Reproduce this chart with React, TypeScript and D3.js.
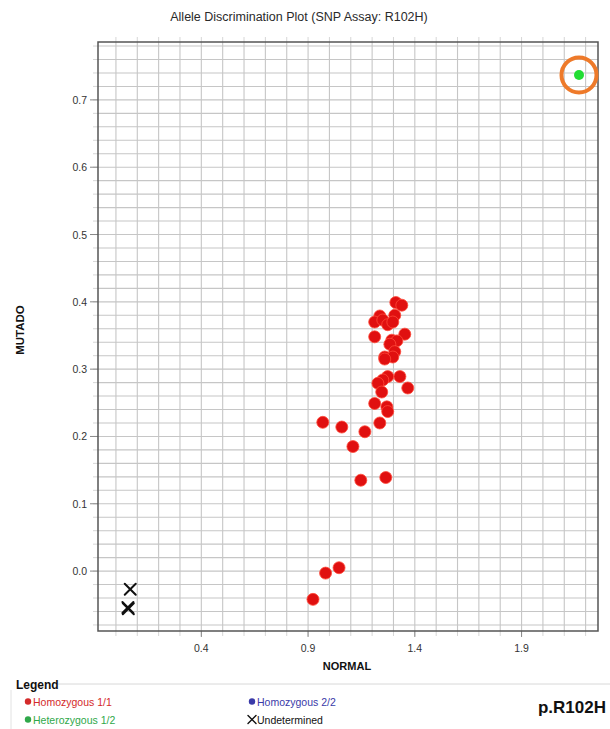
import React from "react";
import * as d3 from "d3";

// Allele discrimination data: NORMAL allele signal (x) vs MUTADO allele signal (y)
const homozygous11: [number, number][] = [
  [1.311, 0.399], [1.339, 0.395], [1.236, 0.379], [1.306, 0.38],
  [1.212, 0.37], [1.25, 0.373], [1.273, 0.366], [1.297, 0.37],
  [1.212, 0.348], [1.353, 0.352], [1.292, 0.343], [1.316, 0.342],
  [1.283, 0.337], [1.306, 0.326], [1.259, 0.318], [1.297, 0.318],
  [1.259, 0.315], [1.273, 0.289], [1.25, 0.284], [1.227, 0.279],
  [1.33, 0.289], [1.245, 0.266], [1.367, 0.272], [1.212, 0.249],
  [1.269, 0.244], [1.273, 0.237], [1.236, 0.22], [0.969, 0.221],
  [1.058, 0.214], [1.166, 0.207], [1.11, 0.185], [1.147, 0.135],
  [1.264, 0.139], [0.982, -0.003], [1.045, 0.005], [0.923, -0.042],
];
const heterozygous12: [number, number][] = [[2.169, 0.737]];
const undetermined: [number, number][] = [
  [0.067, -0.027], [0.056, -0.054], [0.058, -0.056],
];

const xTickValues = [0.4, 0.9, 1.4, 1.9];
const yTickValues = [0.0, 0.1, 0.2, 0.3, 0.4, 0.5, 0.6, 0.7];
const xGridValues = d3.range(0, 22.5).map((i) => i / 10);
const yGridValues = d3.range(-4, 40).map((i) => i / 50);

const title = "Allele Discrimination Plot (SNP Assay: R102H)";
const legendItems = [
  { label: "Homozygous 1/1", color: "#d42a2a", mark: "dot", col: 0, row: 0 },
  { label: "Heterozygous 1/2", color: "#2fa84a", mark: "dot", col: 0, row: 1 },
  { label: "Homozygous 2/2", color: "#3a3aa8", mark: "dot", col: 1, row: 0 },
  { label: "Undetermined", color: "#111", mark: "x", col: 1, row: 1 },
];

const FONT = "'Liberation Sans', Arial, sans-serif";

export default function App() {
  const width = 610;
  const height = 729;
  const left = 98, right = 598, top = 42, bottom = 631;

  const x = d3.scaleLinear().domain([-0.084, 2.258]).range([left, right]);
  const y = d3.scaleLinear().domain([-0.089, 0.786]).range([bottom, top]);

  const xMark = (cx: number, cy: number, r: number, sw: number, key: string, color = "#111") => (
    <g key={key} stroke={color} strokeWidth={sw} strokeLinecap="round">
      <line x1={cx - r} y1={cy - r} x2={cx + r} y2={cy + r} />
      <line x1={cx - r} y1={cy + r} x2={cx + r} y2={cy - r} />
    </g>
  );

  return (
    <svg
      width={width}
      height={height}
      style={{ position: "absolute", left: 0, top: 0, background: "#fff" }}
      fontFamily={FONT}
    >
      <rect x={0} y={0} width={width} height={height} fill="#fff" />
      <text x={299} y={21} textAnchor="middle" fontSize={12.5} fill="#2a2a2a">
        {title}
      </text>

      {/* grid */}
      <g stroke="#c6c6c6" strokeWidth={1.1}>
        {xGridValues.map((v) => (
          <line key={"gx" + v} x1={x(v)} x2={x(v)} y1={top} y2={bottom} />
        ))}
        {yGridValues.map((v) => (
          <line key={"gy" + v} x1={left} x2={right} y1={y(v)} y2={y(v)} />
        ))}
      </g>

      {/* faint outer ticks */}
      <g stroke="#d6d6d6" strokeWidth={1}>
        {xGridValues.map((v) => (
          <line key={"tb" + v} x1={x(v)} x2={x(v)} y1={bottom} y2={bottom + 5} />
        ))}
        {xGridValues.map((v) => (
          <line key={"tt" + v} x1={x(v)} x2={x(v)} y1={top - 5} y2={top} />
        ))}
        {yGridValues.map((v) => (
          <line key={"tl" + v} x1={left - 5} x2={left} y1={y(v)} y2={y(v)} />
        ))}
      </g>
      <g stroke="#888" strokeWidth={1}>
        {yTickValues.map((v) => (
          <line key={"my" + v} x1={left - 8} x2={left} y1={y(v)} y2={y(v)} />
        ))}
        {xTickValues.map((v) => (
          <line key={"mx" + v} x1={x(v)} x2={x(v)} y1={bottom} y2={bottom + 6} />
        ))}
      </g>

      {/* frame */}
      <rect x={left} y={top} width={right - left} height={bottom - top} fill="none" stroke="#555" strokeWidth={1.5} />

      {/* tick labels */}
      <g fontSize={10.5} fill="#333">
        {yTickValues.map((v) => (
          <text key={"ly" + v} x={87} y={y(v) + 4} textAnchor="end">
            {d3.format(".1f")(v)}
          </text>
        ))}
        {xTickValues.map((v) => (
          <text key={"lx" + v} x={x(v)} y={652} textAnchor="middle">
            {d3.format(".1f")(v)}
          </text>
        ))}
      </g>

      {/* axis titles */}
      <text x={347} y={670} textAnchor="middle" fontSize={11} fontWeight="bold" fill="#111">
        NORMAL
      </text>
      <text
        transform={`translate(24,330) rotate(-90)`}
        textAnchor="middle"
        fontSize={11.5}
        fontWeight="bold"
        fill="#111"
      >
        MUTADO
      </text>

      {/* points */}
      <g fill="#e01010" stroke="#ff4a3a" strokeWidth={0.8}>
        {homozygous11.map(([nx, my], i) => (
          <circle key={"h" + i} cx={x(nx)} cy={y(my)} r={6} />
        ))}
      </g>
      {heterozygous12.map(([nx, my], i) => (
        <g key={"het" + i}>
          <circle cx={x(nx)} cy={y(my)} r={5} fill="#22dd33" />
          <circle cx={x(nx)} cy={y(my)} r={17.5} fill="none" stroke="#ee7a2a" strokeWidth={4} />
        </g>
      ))}
      {undetermined.map(([nx, my], i) => xMark(x(nx), y(my), 5.5, 2, "u" + i))}

      {/* legend */}
      <line x1={58} x2={610} y1={684} y2={684} stroke="#d8d8d8" strokeWidth={1} />
      <line x1={11} x2={11} y1={690} y2={729} stroke="#e2e2e2" strokeWidth={1} />
      <text x={16} y={689} fontSize={12} fontWeight="bold" fill="#111">
        Legend
      </text>
      {legendItems.map((it) => {
        const lx = it.col === 0 ? 28 : 252;
        const ly = it.row === 0 ? 702 : 720;
        return (
          <g key={it.label}>
            {it.mark === "dot" ? (
              <circle cx={lx} cy={ly - 0.5} r={3.2} fill={it.color} />
            ) : (
              xMark(lx, ly - 0.5, 4, 1.4, "lx", it.color)
            )}
            <text x={lx + 5} y={ly + 3.5} fontSize={10.5} fill={it.color}>
              {it.label}
            </text>
          </g>
        );
      })}
      <text x={606} y={713} textAnchor="end" fontSize={17} fontWeight="bold" fill="#111">
        p.R102H
      </text>
    </svg>
  );
}
